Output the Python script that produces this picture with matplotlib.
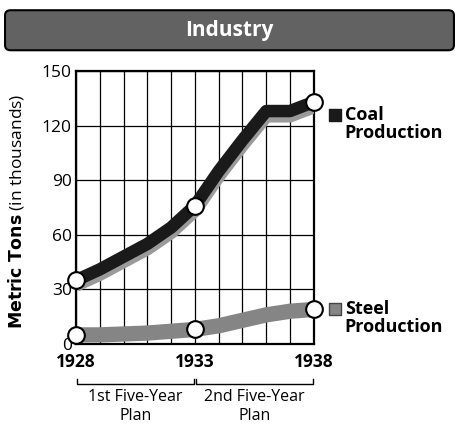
import matplotlib.pyplot as plt
from matplotlib.patches import FancyBboxPatch

plt.rcParams['font.family'] = ['Open Sans', 'DejaVu Sans']

# данные (тыс. метрических тонн)
years = [1928, 1929, 1930, 1931, 1932, 1933, 1934, 1935, 1936, 1937, 1938]
coal = [35, 41, 48, 55, 64, 76, 95, 112, 128, 128, 133]
steel = [5, 5, 5.5, 6, 7, 8, 10, 13, 16, 18, 19]
marked_years = [1928, 1933, 1938]
coal_marked = [35, 76, 133]
steel_marked = [5, 8, 19]
plans = ['1st Five-Year\nPlan', '2nd Five-Year\nPlan']

fig = plt.figure(figsize=(4.59, 4.26), dpi=100)

# заголовок-плашка
banner = FancyBboxPatch((0.011, 0.882), 0.978, 0.094, boxstyle='round,pad=0,rounding_size=0.012',
                        transform=fig.transFigure, facecolor='#626262', edgecolor='black', lw=1.5)
fig.patches.append(banner)
fig.text(0.5, 0.929, 'Industry', color='white', fontsize=15, fontweight='bold',
         ha='center', va='center')

ax = fig.add_axes([0.1656, 0.1925, 0.518, 0.6408])
ax.set_xlim(1928, 1938)
ax.set_ylim(0, 150)
ax.set_xticks(years)
ax.set_yticks([0, 30, 60, 90, 120, 150])
ax.grid(True, color='black', lw=0.9)
ax.tick_params(length=0, labelsize=12.5, pad=3)
ax.set_xticklabels([])
for s in ax.spines.values():
    s.set_linewidth(1.6)

# уголь
ax.plot(years, [c - 2.5 for c in coal], color='#9a9a9a', lw=10, solid_capstyle='butt', zorder=3)
ax.plot(years, coal, color='#1a1a1a', lw=9, solid_capstyle='butt', zorder=4)
ax.plot(marked_years, coal_marked, 'o', ms=12, mfc='white', mec='black', mew=1.5, zorder=6, clip_on=False)

# сталь
ax.plot(years, steel, color='#858585', lw=11, solid_capstyle='butt', zorder=3)
ax.plot(marked_years, steel_marked, 'o', ms=12, mfc='white', mec='black', mew=1.5, zorder=6, clip_on=False)

for y, lab in zip(marked_years, ['1928', '1933', '1938']):
    ax.text(y, -5, lab, ha='center', va='top', fontsize=12.5, fontweight='bold')

# скобки планов
by = -22
for (a, b), txt in zip([(1928, 1933), (1933, 1938)], plans):
    a2 = a + 0.05
    b2 = b - 0.05
    ax.plot([a2, a2, b2, b2], [by + 3, by, by, by + 3], color='black', lw=1, clip_on=False)
    ax.text((a + b) / 2, by - 2.5, txt, ha='center', va='top', fontsize=11.5, linespacing=1.25)

# легенда
ax.scatter([1938.9], [126], marker='s', s=80, color='#1a1a1a', clip_on=False)
ax.text(1939.3, 131, 'Coal\nProduction', fontsize=13, fontweight='bold', va='top', linespacing=1.0)
ax.scatter([1938.9], [19], marker='s', s=80, color='#858585', edgecolor='#444', clip_on=False)
ax.text(1939.3, 24, 'Steel\nProduction', fontsize=13, fontweight='bold', va='top', linespacing=1.0)

fig.text(0.035, 0.505, r'$\bf{Metric\ Tons}$ (in thousands)', rotation=90, ha='center', va='center',
         fontsize=12.5)

plt.savefig('out.png', dpi=100)
